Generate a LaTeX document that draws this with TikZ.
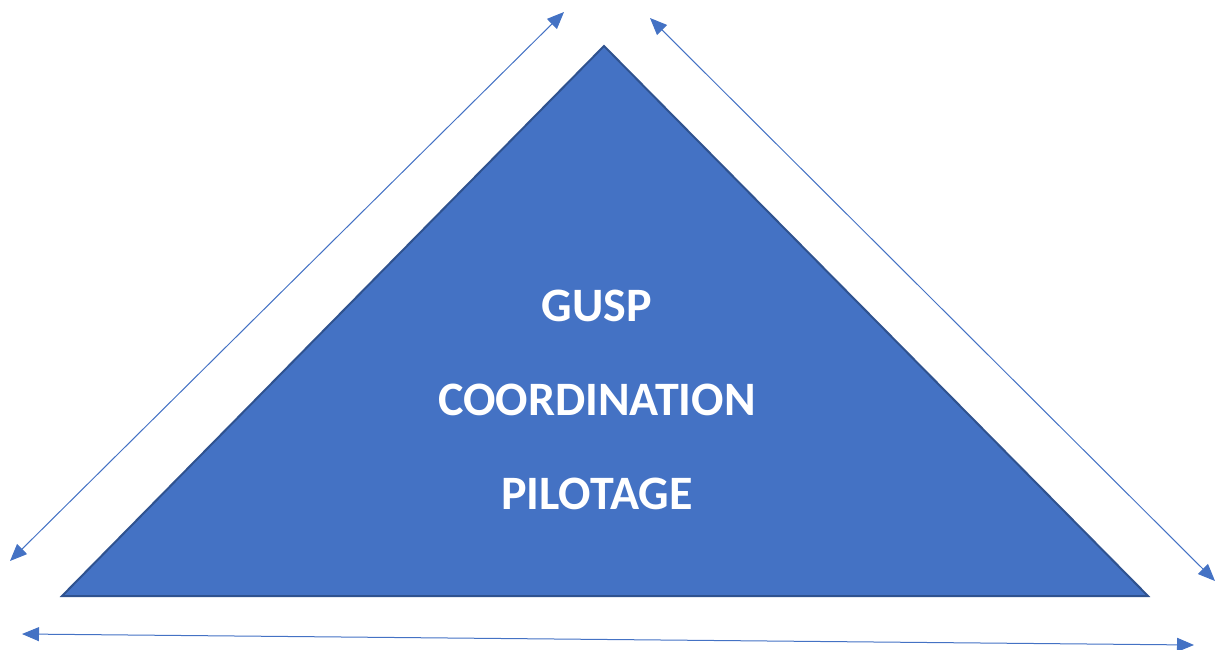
\documentclass[tikz,border=0pt]{standalone}
\usepackage{fontspec}
\setmainfont{Carlito}
\usetikzlibrary{arrows.meta}
\definecolor{pyrblue}{HTML}{4472C4}
\definecolor{pyredge}{HTML}{2F528F}
\tikzset{
  level/.style={text=white,font=\bfseries\fontsize{48}{52}\selectfont,inner sep=0pt},
  side/.style={pyrblue,line width=1pt,{Triangle[length=17pt,width=14pt]}-{Triangle[length=17pt,width=14pt]}}
}

\begin{document}
\begin{tikzpicture}[x=1pt,y=-1pt]
      \useasboundingbox (0,0) rectangle (1218,650);

      \coordinate (top) at (604,46);
      \coordinate (left) at (62,596);
      \coordinate (right) at (1148,596);
      \filldraw[fill=pyrblue,draw=pyredge,line width=2pt,line join=miter] (top) -- (left) -- (right) -- cycle;

      \node[level] (gusp) at (597,306) {GUSP};
      \node[level] (coord) at (597,400) {COORDINATION};
      \node[level] (pilot) at (597,494) {PILOTAGE};

      \coordinate (l1) at (10,561);
      \coordinate (l2) at (564,12);
      \draw[side] (l1) -- (l2);

      \coordinate (r1) at (650,18);
      \coordinate (r2) at (1215,581);
      \draw[side] (r1) -- (r2);

      \coordinate (b1) at (22,634);
      \coordinate (b2) at (1194,645);
      \draw[side] (b1) -- (b2);
\end{tikzpicture}
\end{document}
